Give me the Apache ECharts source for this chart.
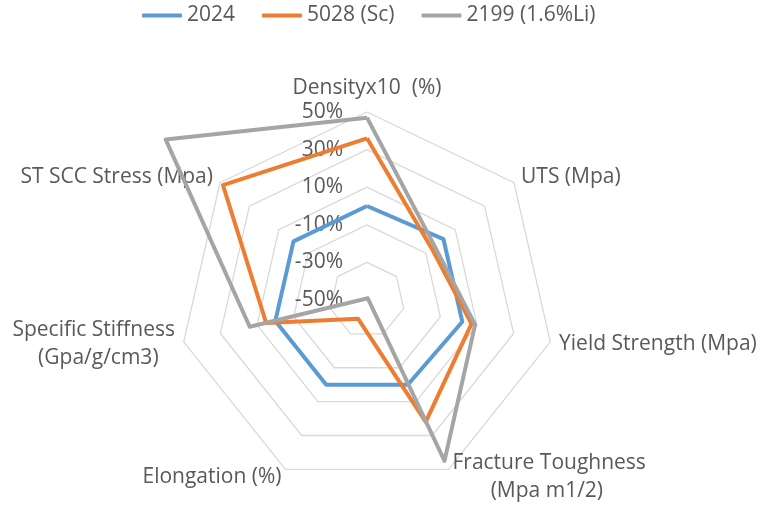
<!DOCTYPE html>
<html>
<head>
<meta charset="utf-8">
<script src="https://cdn.jsdelivr.net/npm/echarts@6/dist/echarts.min.js"></script>
<style>
html,body{margin:0;padding:0;background:#fff;}
#chart{width:769px;height:507px;}
</style>
</head>
<body>
<div id="chart"></div>
<script>
// Categories in Excel (clockwise from top) order
const categories = [
  'Densityx10  (%)',
  'UTS (Mpa)',
  'Yield Strength (Mpa)',
  'Fracture Toughness\n\u00a0\u00a0\u00a0\u00a0\u00a0\u00a0\u00a0(Mpa m1/2)',
  'Elongation (%)',
  'Specific Stiffness\n(Gpa/g/cm3)\u00a0\u00a0\u00a0',
  'ST SCC Stress (Mpa)'
];
const seriesNames = ['2024', '5028 (Sc)', '2199 (1.6%Li)'];
const values2024 = [0, 2, 2, 0, 0, 0, 0];
const values5028 = [36, -6, 7, 22, -39, 5, 48];
const values2199 = [47, -4, 9, 45, -51, 14, 87];
const tickMin = -50;
const tickMax = 50;
const tickStep = 20;
const colors = ['#5B9BD5', '#ED7D31', '#A5A5A5'];

// ECharts radar runs counter-clockwise; Excel runs clockwise -> reorder
const order = [0, 6, 5, 4, 3, 2, 1];
const indicator = order.map((i, k) => {
  const ind = { name: categories[i], min: tickMin, max: tickMax };
  if (k === 0) ind.axisLabel = { show: true };
  return ind;
});
const reorder = arr => order.map(i => arr[i]);
const allValues = [values2024, values5028, values2199];

const chart = echarts.init(document.getElementById('chart'), null, { renderer: 'canvas' });
const textColor = '#595959';
const fontFamily = '"Open Sans", sans-serif';
const fs = 21;
chart.setOption({
  animation: false,
  textStyle: { fontFamily: fontFamily },
  legend: {
    data: seriesNames,
    left: 142,
    top: 5,
    padding: 0,
    itemWidth: 40,
    itemHeight: 4,
    itemGap: 27,
    icon: 'roundRect',
    textStyle: { color: textColor, fontSize: fs, fontFamily: fontFamily }
  },
  radar: {
    center: [367, 300],
    radius: 188,
    startAngle: 90,
    shape: 'polygon',
    splitNumber: (tickMax - tickMin) / tickStep,
    axisNameGap: 9,
    axisName: { color: textColor, fontSize: fs, fontFamily: fontFamily, lineHeight: 28 },
    axisLine: { show: false },
    axisTick: { show: false },
    splitArea: { show: false },
    splitLine: { lineStyle: { color: '#D9D9D9', width: 1.3 } },
    axisLabel: {
      show: false,
      margin: 24,
      color: textColor,
      fontSize: fs,
      fontFamily: fontFamily,
      formatter: v => v + '%'
    },
    indicator: indicator
  },
  series: [{
    type: 'radar',
    symbol: 'none',
    data: allValues.map((vals, s) => ({
      name: seriesNames[s],
      value: reorder(vals),
      lineStyle: { color: colors[s], width: 4 },
      itemStyle: { color: colors[s] }
    }))
  }]
});
</script>
</body>
</html>
